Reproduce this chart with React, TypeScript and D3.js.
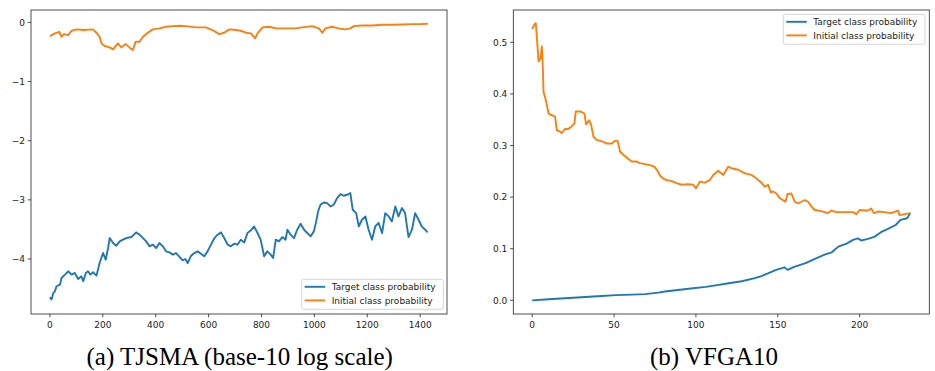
import React from 'react';
import * as d3 from 'd3';

// (a) TJSMA, base-10 log of probabilities, [step, value]
const tjsmaTarget: [number, number][] = [
  [0, -4.647], [6, -4.686], [13, -4.574], [19, -4.546], [25, -4.461], [38, -4.433], [44, -4.321], [57, -4.264],
  [69, -4.208], [82, -4.264], [94, -4.236], [107, -4.338], [119, -4.293], [126, -4.377], [136, -4.236], [144, -4.208],
  [153, -4.264], [163, -4.225], [176, -4.281], [188, -4.068], [201, -3.899], [211, -4.011], [220, -3.814], [226, -3.646],
  [239, -3.73], [251, -3.775], [264, -3.702], [276, -3.674], [289, -3.646], [308, -3.629], [326, -3.55], [339, -3.589],
  [352, -3.646], [364, -3.702], [377, -3.786], [389, -3.758], [402, -3.814], [414, -3.73], [427, -3.786], [439, -3.871],
  [452, -3.888], [465, -3.927], [477, -3.899], [490, -3.966], [502, -4.023], [512, -4.0], [521, -4.068], [534, -3.944],
  [546, -3.899], [559, -3.871], [571, -3.91], [584, -3.955], [596, -3.871], [609, -3.758], [622, -3.646], [634, -3.589],
  [647, -3.55], [659, -3.646], [672, -3.758], [684, -3.786], [697, -3.741], [709, -3.758], [722, -3.674], [735, -3.719],
  [747, -3.561], [760, -3.516], [772, -3.449], [785, -3.561], [797, -3.674], [810, -3.955], [822, -3.871], [835, -3.927],
  [844, -3.983], [854, -3.674], [866, -3.702], [879, -3.629], [891, -3.674], [898, -3.505], [910, -3.589], [923, -3.646],
  [935, -3.505], [948, -3.404], [961, -3.505], [973, -3.561], [986, -3.617], [998, -3.533], [1007, -3.364], [1014, -3.196],
  [1023, -3.083], [1036, -3.044], [1048, -3.055], [1061, -3.111], [1073, -3.083], [1086, -2.97], [1099, -2.903], [1111, -2.931],
  [1124, -2.914], [1136, -2.886], [1145, -3.167], [1158, -3.224], [1168, -3.449], [1180, -3.336], [1193, -3.28], [1205, -3.505],
  [1218, -3.674], [1230, -3.449], [1243, -3.392], [1256, -3.561], [1268, -3.224], [1281, -3.28], [1293, -3.364], [1306, -3.111],
  [1318, -3.28], [1331, -3.139], [1343, -3.224], [1356, -3.629], [1369, -3.505], [1381, -3.224], [1394, -3.336], [1406, -3.449],
  [1419, -3.505], [1428, -3.55],
];
const tjsmaInitial: [number, number][] = [
  [0, -0.231], [19, -0.186], [35, -0.158], [44, -0.242], [53, -0.197], [69, -0.214], [82, -0.141], [100, -0.118],
  [126, -0.129], [163, -0.118], [176, -0.174], [188, -0.242], [195, -0.354], [207, -0.399], [226, -0.422], [239, -0.456],
  [257, -0.354], [270, -0.422], [286, -0.366], [301, -0.422], [314, -0.467], [324, -0.326], [339, -0.326], [352, -0.242],
  [370, -0.174], [389, -0.118], [414, -0.101], [439, -0.073], [465, -0.062], [490, -0.056], [515, -0.062], [552, -0.084],
  [590, -0.084], [615, -0.129], [640, -0.197], [659, -0.174], [678, -0.118], [703, -0.129], [722, -0.141], [741, -0.174],
  [760, -0.186], [776, -0.27], [785, -0.186], [804, -0.084], [829, -0.073], [854, -0.101], [879, -0.101], [904, -0.101],
  [929, -0.101], [954, -0.084], [992, -0.062], [1017, -0.101], [1030, -0.174], [1042, -0.101], [1067, -0.073], [1092, -0.101],
  [1117, -0.118], [1136, -0.101], [1149, -0.062], [1180, -0.051], [1218, -0.051], [1256, -0.039], [1293, -0.039], [1331, -0.034],
  [1369, -0.028], [1400, -0.028], [1429, -0.022],
];

// (b) VFGA10, raw probabilities
const vfgaTarget: [number, number][] = [
  [0, 0.0], [10, 0.002], [20, 0.004], [30, 0.006], [40, 0.008], [51, 0.01], [61, 0.011], [69, 0.012],
  [77, 0.015], [81, 0.017], [89, 0.02], [97, 0.023], [106, 0.026], [112, 0.029], [120, 0.033], [128, 0.037],
  [136, 0.043], [140, 0.047], [144, 0.052], [149, 0.059], [154, 0.064], [156, 0.059], [160, 0.065], [167, 0.072],
  [173, 0.081], [179, 0.089], [183, 0.093], [187, 0.104], [192, 0.11], [196, 0.117], [199, 0.12], [201, 0.116],
  [205, 0.119], [209, 0.123], [213, 0.132], [217, 0.138], [222, 0.146], [225, 0.156], [229, 0.159], [231, 0.169],
];
const vfgaInitial: [number, number][] = [
  [0, 0.526], [1.4, 0.535], [2.2, 0.537], [3.9, 0.463], [5.1, 0.469], [5.9, 0.492], [6.5, 0.45], [6.9, 0.404],
  [8.3, 0.388], [10, 0.362], [12, 0.359], [14, 0.356], [15, 0.33], [17, 0.327], [18, 0.324], [20, 0.332],
  [22, 0.332], [24, 0.337], [25.8, 0.343], [26.6, 0.366], [29.3, 0.366], [31.9, 0.362], [32.9, 0.341], [34.8, 0.349],
  [36, 0.34], [37.4, 0.317], [39.4, 0.311], [41.5, 0.309], [43.5, 0.307], [45.5, 0.304], [48.6, 0.304], [50.6, 0.309],
  [52.2, 0.309], [53.7, 0.288], [55.7, 0.282], [58.7, 0.274], [60.8, 0.269], [63.8, 0.269], [65.9, 0.266], [68.9, 0.264],
  [72, 0.262], [74.6, 0.259], [76.6, 0.251], [78, 0.242], [80.1, 0.236], [82.1, 0.233], [85.2, 0.231], [88.2, 0.227],
  [91.3, 0.224], [95.3, 0.225], [98.4, 0.224], [100, 0.217], [102.4, 0.23], [105.5, 0.228], [108.5, 0.233], [110.6, 0.243],
  [113.6, 0.251], [116.7, 0.243], [119.7, 0.259], [121.7, 0.256], [125.8, 0.253], [129.9, 0.246], [134, 0.243], [137, 0.236],
  [140, 0.228], [142.1, 0.22], [144.1, 0.224], [145.7, 0.209], [147.2, 0.211], [149.2, 0.207], [151.2, 0.198], [153.3, 0.194],
  [154.7, 0.191], [155.9, 0.206], [158.3, 0.207], [160.4, 0.191], [162.4, 0.188], [164.4, 0.191], [166.5, 0.194], [168.5, 0.191],
  [170.5, 0.182], [172.6, 0.175], [174.6, 0.174], [177.6, 0.172], [180.7, 0.169], [182.7, 0.174], [185.8, 0.171], [189.8, 0.171],
  [192.9, 0.171], [196, 0.171], [198, 0.167], [200, 0.175], [203, 0.174], [205.1, 0.174], [207.1, 0.178], [208.7, 0.169],
  [211.2, 0.172], [215.2, 0.171], [219.3, 0.169], [223.4, 0.174], [224.4, 0.165], [227.4, 0.167], [231.1, 0.169],
];

const legendLabels = ['Target class probability', 'Initial class probability'];
const captions = ['(a) TJSMA (base-10 log scale)', '(b) VFGA10'];
const tjsmaXTicks = [0, 200, 400, 600, 800, 1000, 1200, 1400];
const tjsmaYTicks = [0, -1, -2, -3, -4];
const vfgaXTicks = [0, 50, 100, 150, 200];
const vfgaYTicks = [0, 0.1, 0.2, 0.3, 0.4, 0.5];

const BLUE = '#1f77b4';
const ORANGE = '#ff7f0e';
const TICK_FONT = 'DejaVu Sans, sans-serif';

type PanelProps = {
  box: { left: number; top: number; right: number; bottom: number };
  xDomain: [number, number];
  yDomain: [number, number];
  xTicks: number[];
  yTicks: number[];
  yFormat: (v: number) => string;
  target: [number, number][];
  initial: [number, number][];
  legend: { x: number; y: number; w: number };
};

const Panel = ({ box, xDomain, yDomain, xTicks, yTicks, yFormat, target, initial, legend }: PanelProps) => {
  const x = d3.scaleLinear().domain(xDomain).range([box.left, box.right]);
  const y = d3.scaleLinear().domain(yDomain).range([box.bottom, box.top]);
  const line = d3.line<[number, number]>().x(d => x(d[0])).y(d => y(d[1]));

  return (
    <g>
      <path d={line(target) || ''} fill="none" stroke={BLUE} strokeWidth={1.9} strokeLinejoin="round" />
      <path d={line(initial) || ''} fill="none" stroke={ORANGE} strokeWidth={1.9} strokeLinejoin="round" />
      <rect x={box.left} y={box.top} width={box.right - box.left} height={box.bottom - box.top}
        fill="none" stroke="#222" strokeWidth={0.8} />
      {xTicks.map(t => (
        <g key={'x' + t}>
          <line x1={x(t)} x2={x(t)} y1={box.bottom} y2={box.bottom + 3.2} stroke="#222" strokeWidth={0.8} />
          <text x={x(t)} y={box.bottom + 13.5} textAnchor="middle" fontSize={9} fontFamily={TICK_FONT} fill="#222">{String(t)}</text>
        </g>
      ))}
      {yTicks.map(t => (
        <g key={'y' + t}>
          <line x1={box.left - 3.2} x2={box.left} y1={y(t)} y2={y(t)} stroke="#222" strokeWidth={0.8} />
          <text x={box.left - 6} y={y(t) + 3.2} textAnchor="end" fontSize={9} fontFamily={TICK_FONT} fill="#222">{yFormat(t)}</text>
        </g>
      ))}
      <g>
        <rect x={legend.x} y={legend.y} width={legend.w} height={30} rx={2} fill="white" fillOpacity={0.8} stroke="#ccc" strokeWidth={0.8} />
        {legendLabels.map((label, i) => (
          <g key={label}>
            <line x1={legend.x + 3} x2={legend.x + 23.5} y1={legend.y + 7.5 + i * 13.6} y2={legend.y + 7.5 + i * 13.6}
              stroke={i === 0 ? BLUE : ORANGE} strokeWidth={1.9} />
            <text x={legend.x + 30} y={legend.y + 10.7 + i * 13.6} fontSize={9} fontFamily={TICK_FONT} fill="#222">{label}</text>
          </g>
        ))}
      </g>
    </g>
  );
};

const App = () => {
  const minus = (v: number) => (v < 0 ? '\u2212' + Math.abs(v) : String(v));
  return (
    <svg width={935} height={371} style={{ position: 'absolute', left: 0, top: 0, background: 'white' }}>
      <Panel
        box={{ left: 31, top: 10, right: 447, bottom: 314 }}
        xDomain={[-71.5, 1501.5]}
        yDomain={[-4.93, 0.21]}
        xTicks={tjsmaXTicks}
        yTicks={tjsmaYTicks}
        yFormat={minus}
        target={tjsmaTarget}
        initial={tjsmaInitial}
        legend={{ x: 301.7, y: 279.3, w: 141.6 }}
      />
      <Panel
        box={{ left: 513.3, top: 10, right: 929.3, bottom: 314 }}
        xDomain={[-11.55, 242.55]}
        yDomain={[-0.0265, 0.5626]}
        xTicks={vfgaXTicks}
        yTicks={vfgaYTicks}
        yFormat={d3.format('.1f')}
        target={vfgaTarget}
        initial={vfgaInitial}
        legend={{ x: 783.3, y: 14.3, w: 141.7 }}
      />
      <text x={239.7} y={365} textAnchor="middle" fontSize={25} fontFamily="Liberation Serif, serif" fill="#000">{captions[0]}</text>
      <text x={714} y={365} textAnchor="middle" fontSize={25} fontFamily="Liberation Serif, serif" fill="#000">{captions[1]}</text>
    </svg>
  );
};

export default App;
